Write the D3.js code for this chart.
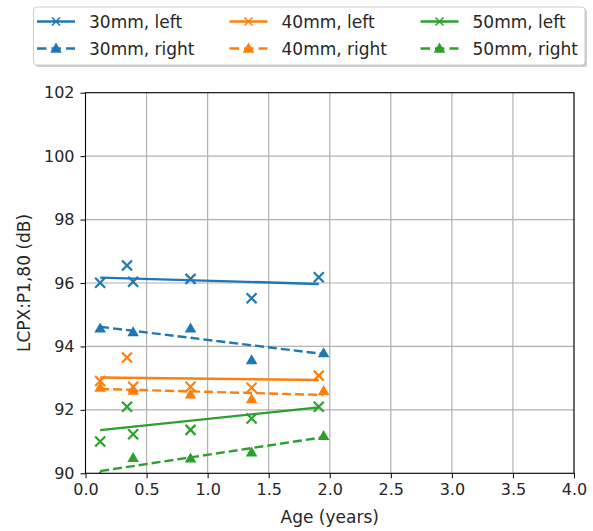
<!DOCTYPE html>
<html>
<head>
<meta charset="utf-8">
<script src="https://cdn.jsdelivr.net/npm/d3@7"></script>
<style>
  body { margin: 0; background: #fff; }
  text { font-family: "DejaVu Sans", sans-serif; fill: #262626; }
</style>
</head>
<body>
<div id="container"></div>
<script>
// DATA

const ageLeft = [0.12, 0.34, 0.39, 0.86, 1.36, 1.91]
const ageRight = [0.12, 0.39, 0.86, 1.36, 1.95]

const left30 = [96.01, 96.55, 96.04, 96.13, 95.52, 96.18]
const left40 = [92.91, 93.65, 92.73, 92.73, 92.70, 93.08]
const left50 = [91.00, 92.10, 91.23, 91.37, 91.73, 92.10]

const right30 = [94.57, 94.45, 94.57, 93.57, 93.79]
const right40 = [92.70, 92.61, 92.49, 92.34, 92.60]
const right50 = [89.90, 90.49, 90.47, 90.66, 91.18]

// fitted trend lines, value at first and last age
const fitLeft30 = [96.17, 95.97]
const fitLeft40 = [93.02, 92.94]
const fitLeft50 = [91.36, 92.08]
const fitRight30 = [94.62, 93.76]
const fitRight40 = [92.66, 92.47]
const fitRight50 = [90.07, 91.14]

const seriesNames = ["30mm, left", "30mm, right", "40mm, left", "40mm, right", "50mm, left", "50mm, right"]
const xTicks = [0, 0.5, 1, 1.5, 2, 2.5, 3, 3.5, 4]
const yTicks = [90, 92, 94, 96, 98, 100, 102]

// VARIABLES

const width = 593
const height = 531
const margin = {left: 85.5, right: 19, top: 92.7, bottom: 57.7}
const colors = ["#1f77b4", "#ff7f0e", "#2ca02c"]

const series = [
  {name: seriesNames[0], color: colors[0], ages: ageLeft, vals: left30, fit: fitLeft30, dashed: false},
  {name: seriesNames[1], color: colors[0], ages: ageRight, vals: right30, fit: fitRight30, dashed: true},
  {name: seriesNames[2], color: colors[1], ages: ageLeft, vals: left40, fit: fitLeft40, dashed: false},
  {name: seriesNames[3], color: colors[1], ages: ageRight, vals: right40, fit: fitRight40, dashed: true},
  {name: seriesNames[4], color: colors[2], ages: ageLeft, vals: left50, fit: fitLeft50, dashed: false},
  {name: seriesNames[5], color: colors[2], ages: ageRight, vals: right50, fit: fitRight50, dashed: true}
]

// SCALES

const x = d3.scaleLinear().domain([0, 4]).range([margin.left, width - margin.right])
const y = d3.scaleLinear().domain([90, 102]).range([height - margin.bottom, margin.top])

// ELEMENTS

const svg = d3.select("#container")
  .append("svg")
  .attr("width", width)
  .attr("height", height)

svg.append("clipPath").attr("id", "plotclip")
  .append("rect")
  .attr("x", x(0)).attr("y", y(102))
  .attr("width", x(4) - x(0)).attr("height", y(90) - y(102))

// grid
svg.append("g").selectAll("line").data(xTicks).join("line")
  .attr("x1", d => x(d)).attr("x2", d => x(d))
  .attr("y1", y(90)).attr("y2", y(102))
  .attr("stroke", "#b0b0b0").attr("stroke-width", 1.2)
svg.append("g").selectAll("line").data(yTicks).join("line")
  .attr("x1", x(0)).attr("x2", x(4))
  .attr("y1", d => y(d)).attr("y2", d => y(d))
  .attr("stroke", "#b0b0b0").attr("stroke-width", 1.2)

const plot = svg.append("g").attr("clip-path", "url(#plotclip)")

const tri = d3.symbol().type(d3.symbolTriangle).size(58)
const cross = "M-5,-5L5,5M-5,5L5,-5"

series.forEach(s => {
  const first = s.ages[0], last = s.ages[s.ages.length - 1]
  plot.append("line")
    .attr("x1", x(first)).attr("y1", y(s.fit[0]))
    .attr("x2", x(last)).attr("y2", y(s.fit[1]))
    .attr("stroke", s.color).attr("stroke-width", 2.4)
    .attr("stroke-dasharray", s.dashed ? "9,4" : null)

  const pts = s.ages.map((a, i) => [a, s.vals[i]])
  if (s.dashed) {
    plot.append("g").selectAll("path").data(pts).join("path")
      .attr("d", tri)
      .attr("transform", d => `translate(${x(d[0])},${y(d[1]) + 0.8})`)
      .attr("fill", s.color)
  } else {
    plot.append("g").selectAll("path").data(pts).join("path")
      .attr("d", cross)
      .attr("transform", d => `translate(${x(d[0])},${y(d[1])})`)
      .attr("stroke", s.color).attr("stroke-width", 2.2).attr("fill", "none")
  }
})

// AXES

const xAxis = svg.append("g")
  .attr("transform", `translate(0,${y(90)})`)
  .call(d3.axisBottom(x).tickValues(xTicks).tickFormat(d3.format(".1f")).tickSizeOuter(0).tickSize(5).tickPadding(5))
const yAxis = svg.append("g")
  .attr("transform", `translate(${x(0)},0)`)
  .call(d3.axisLeft(y).tickValues(yTicks).tickSizeOuter(0).tickSize(5).tickPadding(6))

;[xAxis, yAxis].forEach(g => {
  g.select(".domain").remove()
  g.selectAll(".tick line").attr("stroke", "#000").attr("stroke-width", 1)
  g.selectAll(".tick text").attr("font-size", 16).attr("font-family", "DejaVu Sans").attr("fill", "#262626")
})

svg.append("rect")
  .attr("x", x(0)).attr("y", y(102))
  .attr("width", x(4) - x(0)).attr("height", y(90) - y(102))
  .attr("fill", "none").attr("stroke", "#000").attr("stroke-width", 1)

svg.append("text")
  .attr("x", (x(0) + x(4)) / 2).attr("y", 523)
  .attr("text-anchor", "middle").attr("font-size", 17)
  .text("Age (years)")

svg.append("text")
  .attr("transform", `translate(30,${(y(90) + y(102)) / 2}) rotate(-90)`)
  .attr("text-anchor", "middle").attr("font-size", 17)
  .text("LCPX:P1,80 (dB)")

// LEGEND

const legend = svg.append("g")
legend.append("rect")
  .attr("x", 35.5).attr("y", 9).attr("width", 551.5).attr("height", 58).attr("rx", 3)
  .attr("fill", "#999").attr("opacity", 0.5)
legend.append("rect")
  .attr("x", 33.5).attr("y", 7).attr("width", 551.5).attr("height", 58).attr("rx", 3)
  .attr("fill", "#fff").attr("stroke", "#ccc").attr("stroke-width", 1)

const colX = [37, 229.5, 420.5]
const rowY = [21.5, 48.5]

series.forEach((s, i) => {
  const cx = colX[Math.floor(i / 2)]
  const cy = rowY[i % 2]
  legend.append("line")
    .attr("x1", cx).attr("x2", cx + 38).attr("y1", cy).attr("y2", cy)
    .attr("stroke", s.color).attr("stroke-width", 2.3)
    .attr("stroke-dasharray", s.dashed ? "9.5,5" : null)
  if (s.dashed) {
    legend.append("path").attr("d", tri)
      .attr("transform", `translate(${cx + 19},${cy + 0.8})`).attr("fill", s.color)
  } else {
    legend.append("path").attr("d", "M-4,-4L4,4M-4,4L4,-4")
      .attr("transform", `translate(${cx + 19},${cy})`)
      .attr("stroke", s.color).attr("stroke-width", 1.6)
  }
  legend.append("text")
    .attr("x", cx + 52).attr("y", cy + 6)
    .attr("font-size", 17)
    .text(s.name)
})
</script>
</body>
</html>
